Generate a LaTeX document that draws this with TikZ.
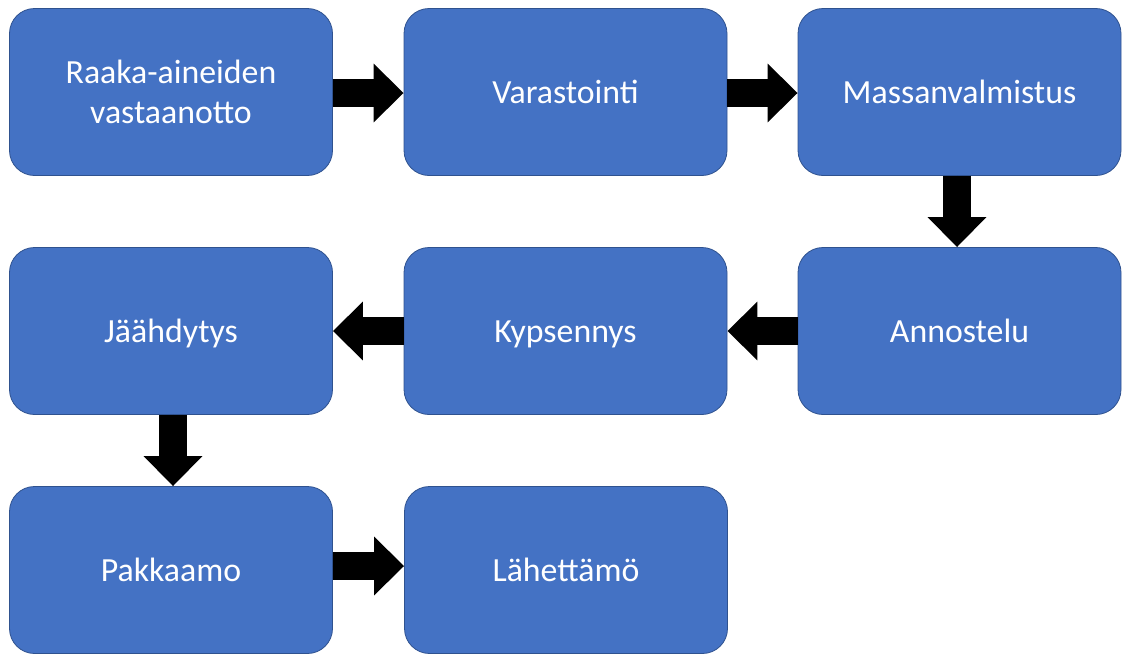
\documentclass[tikz,border=0pt]{standalone}
\usepackage{fontspec}
\setmainfont{Carlito}
\usetikzlibrary{arrows.meta}
\definecolor{boxblue}{HTML}{4472C4}
\definecolor{boxedge}{HTML}{2F528F}
\tikzset{
  stepbox/.style={rectangle, rounded corners=25pt, fill=boxblue, draw=boxedge, line width=0.8pt,
    minimum width=323pt, minimum height=167pt, inner sep=0pt, text=white, align=center,
    font=\fontsize{33.8}{40}\selectfont},
  oneline/.style={text height=24pt, text depth=2pt},
  blockarrow/.style={draw=black, line width=28pt, -{Triangle[width=57pt,length=30pt]}, fill=black}
}
\begin{document}
\begin{tikzpicture}[x=1pt,y=-1pt]
\useasboundingbox (0,0) rectangle (1122,654);
\node[stepbox] (a) at (171,92) {Raaka-aineiden\\vastaanotto};
\node[stepbox,oneline] (b) at (565.5,92) {Varastointi};
\node[stepbox,oneline] (c) at (959.5,92) {Massanvalmistus};
\node[stepbox,oneline] (d) at (959.5,331) {Annostelu};
\node[stepbox,oneline] (e) at (565.5,331) {Kypsennys};
\node[stepbox,oneline] (f) at (171,331) {Jäähdytys};
\node[stepbox,oneline] (g) at (171,570) {Pakkaamo};
\node[stepbox,oneline] (h) at (566,570) {Lähettämö};
\draw[blockarrow] ([yshift=-1pt]a.east) -- ([yshift=-1pt]b.west);
\draw[blockarrow] ([yshift=-1pt]b.east) -- ([yshift=-1pt]c.west);
\draw[blockarrow] ([xshift=-2.5pt]c.south) -- ([xshift=-2.5pt]d.north);
\draw[blockarrow] (d.west) -- (e.east);
\draw[blockarrow] (e.west) -- (f.east);
\draw[blockarrow] ([xshift=2pt]f.south) -- ([xshift=2pt]g.north);
\draw[blockarrow] ([yshift=4pt]g.east) -- ([yshift=4pt]h.west);
\end{tikzpicture}
\end{document}
